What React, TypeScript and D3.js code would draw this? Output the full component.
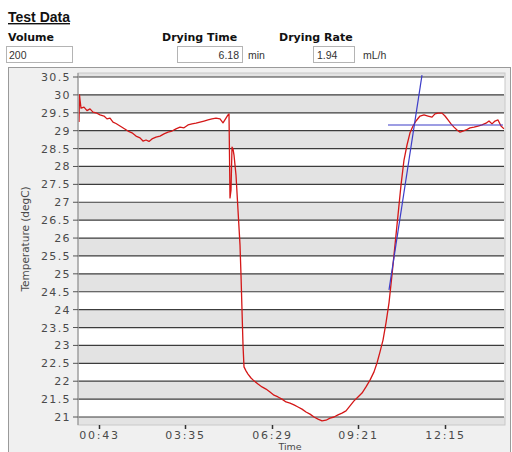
import * as d3 from "d3";

// elapsed seconds and temperature
const timeSec = [
  2, 3, 4, 6, 12, 18, 24, 30, 36, 44, 52, 58, 64, 70, 76, 84, 92, 100, 108, 116,
  124, 130, 136, 142, 148, 156, 164, 172, 180, 188, 196, 204, 212, 220, 228, 236,
  244, 252, 260, 268, 276, 284, 290, 296, 300, 302, 304, 306, 308, 310, 312, 316,
  320, 324, 326, 328, 330, 332, 336, 340, 346, 352, 360, 368, 376, 384, 392, 400,
  408, 416, 424, 432, 440, 448, 456, 464, 472, 480, 488, 496, 504, 512, 520, 528,
  536, 544, 552, 560, 568, 576, 584, 592, 598, 604, 610, 616, 622, 628, 634, 640,
  646, 652, 658, 664, 670, 676, 684, 692, 700, 708, 714, 720, 728, 734, 740, 746,
  752, 758, 764, 770, 776, 784, 792, 800, 808, 816, 822, 828, 834, 840, 846, 852,
];
const tempC = [
  29.24, 30.0, 29.86, 29.63, 29.66, 29.56, 29.61, 29.52, 29.5, 29.44, 29.41, 29.33, 29.35, 29.24, 29.2, 29.13, 29.06, 28.99, 28.94, 28.85,
  28.8, 28.71, 28.74, 28.7, 28.77, 28.82, 28.85, 28.91, 28.96, 28.99, 29.05, 29.1, 29.08, 29.16, 29.19, 29.21,
  29.24, 29.27, 29.3, 29.33, 29.35, 29.33, 29.22, 29.35, 29.44, 29.47, 27.12, 27.34, 28.54, 28.49, 28.32, 27.76,
  26.78, 25.81, 24.97, 23.99, 23.01, 22.4, 22.29, 22.2, 22.09, 22.01, 21.92, 21.84, 21.78, 21.7, 21.61, 21.56,
  21.5, 21.42, 21.39, 21.34, 21.28, 21.22, 21.14, 21.08, 21.0, 20.94, 20.89, 20.91, 20.97, 21.0, 21.06, 21.11,
  21.17, 21.31, 21.45, 21.56, 21.67, 21.84, 22.03, 22.26, 22.51, 22.82, 23.15, 23.63, 24.19, 24.97, 25.81, 26.64,
  27.48, 28.18, 28.6, 28.94, 29.13, 29.27, 29.41, 29.44, 29.41, 29.38, 29.47, 29.49, 29.49, 29.41, 29.3, 29.19,
  29.1, 29.02, 28.96, 28.99, 29.02, 29.08, 29.1, 29.13, 29.16, 29.21, 29.27, 29.19, 29.27, 29.3, 29.13, 29.05,
];

// fitted rise line and plateau line (blue)
const fitTimes = [622, 688];
const fitTemps = [24.55, 30.55];
const plateauTimes = [620, 850];
const plateauTemp = 29.16;

const yTicks = [21, 21.5, 22, 22.5, 23, 23.5, 24, 24.5, 25, 25.5, 26, 26.5, 27, 27.5, 28, 28.5, 29, 29.5, 30, 30.5];
const xTickValues = [43, 215, 389, 561, 735];
const xTickLabels = ["00:43", "03:35", "06:29", "09:21", "12:15"];

const plotLeft = 78, plotRight = 505, plotTop = 73, plotBottom = 425;

export default function App() {
  const x = d3.scaleLinear().domain([0, 854]).range([plotLeft, plotRight]);
  const y = d3.scaleLinear().domain([21, 30.5]).range([417, 77]);

  const line = d3.line<number>()
    .x((d, i) => x(timeSec[i]))
    .y((d) => y(d));

  const bands = d3.range(20.5, 31, 0.5).filter((v) => Math.abs(v % 1 - 0.5) < 0.01);

  const sans = "DejaVu Sans, Verdana, sans-serif";
  const arial = "Liberation Sans, Arial, sans-serif";

  return (
    <svg width={512} height={452} style={{ position: "absolute", left: 0, top: 0 }}>
      <rect width={512} height={452} fill="#ffffff" />
      {/* header */}
      <text x={8} y={22} fontFamily={arial} fontWeight="bold" fontSize={14} fill="#111" textDecoration="underline">Test Data</text>
      <text x={8} y={41} fontFamily={sans} fontWeight="bold" fontSize={11} fill="#111">Volume</text>
      <text x={162} y={41} fontFamily={sans} fontWeight="bold" fontSize={11} fill="#111">Drying Time</text>
      <text x={279} y={41} fontFamily={sans} fontWeight="bold" fontSize={11} fill="#111">Drying Rate</text>
      <rect x={6.5} y={46.5} width={66} height={16} fill="#fff" stroke="#b4b4b4" />
      <text x={9} y={59} fontFamily={arial} fontSize={10.5} fill="#333">200</text>
      <rect x={177.5} y={46.5} width={65} height={16} fill="#fff" stroke="#b4b4b4" />
      <text x={239} y={59} textAnchor="end" fontFamily={arial} fontSize={10.5} fill="#333">6.18</text>
      <text x={248} y={59} fontFamily={arial} fontSize={10.5} fill="#333">min</text>
      <rect x={313.5} y={46.5} width={41} height={16} fill="#fff" stroke="#b4b4b4" />
      <text x={317} y={59} fontFamily={arial} fontSize={10.5} fill="#333">1.94</text>
      <text x={363} y={59} fontFamily={arial} fontSize={10.5} fill="#333">mL/h</text>

      {/* chart panel */}
      <rect x={8.5} y={67.5} width={502} height={390} fill="#f0f0f0" stroke="#9a9a9a" />
      <defs>
        <clipPath id="plotClip">
          <rect x={plotLeft} y={plotTop} width={plotRight - plotLeft} height={plotBottom - plotTop} />
        </clipPath>
      </defs>
      <rect x={plotLeft} y={plotTop} width={plotRight - plotLeft} height={plotBottom - plotTop} fill="#ffffff" />
      <g clipPath="url(#plotClip)">
        {bands.map((v) => (
          <rect key={v} x={plotLeft} y={y(v + 0.5)} width={plotRight - plotLeft} height={y(v) - y(v + 0.5)} fill="#e3e3e3" />
        ))}
        {yTicks.map((v) => (
          <line key={v} x1={plotLeft} x2={plotRight - 1} y1={y(v)} y2={y(v)} stroke="#3c3c3c" strokeWidth={1.2} />
        ))}
        <path d={line(tempC) || ""} fill="none" stroke="#d41818" strokeWidth={1.3} strokeLinejoin="round" />
        <line x1={x(fitTimes[0])} y1={y(fitTemps[0])} x2={x(fitTimes[1])} y2={y(fitTemps[1])} stroke="#3c3cc8" strokeWidth={1.2} />
        <line x1={x(plateauTimes[0])} y1={y(plateauTemp)} x2={x(plateauTimes[1])} y2={y(plateauTemp)} stroke="#3c3cc8" strokeWidth={1.1} />
      </g>
      <rect x={plotLeft} y={plotTop} width={plotRight - plotLeft} height={plotBottom - plotTop} fill="none" stroke="#c8c8c8" />
      <line x1={plotLeft} x2={plotLeft} y1={plotTop} y2={plotBottom} stroke="#8a8a8a" />

      {/* y axis */}
      {yTicks.map((v) => (
        <g key={v}>
          <line x1={73} x2={plotLeft} y1={y(v)} y2={y(v)} stroke="#555" />
          <text x={71} y={y(v) + 4} textAnchor="end" fontFamily={sans} fontSize={11} letterSpacing={1.4} fill="#4a4a4a">{v}</text>
        </g>
      ))}
      <text transform="translate(29,239) rotate(-90)" textAnchor="middle" fontFamily={sans} fontSize={10.5} fill="#4a4a4a">Temperature (degC)</text>

      {/* x axis */}
      {xTickValues.map((v, i) => (
        <g key={v}>
          <line x1={x(v)} x2={x(v)} y1={plotBottom} y2={plotBottom + 4} stroke="#333" strokeWidth={1.5} />
          <text x={x(v)} y={439} textAnchor="middle" fontFamily={sans} fontSize={11} letterSpacing={1.8} fill="#4a4a4a">{xTickLabels[i]}</text>
        </g>
      ))}
      <text x={290} y={450} textAnchor="middle" fontFamily={sans} fontSize={9.5} fill="#4a4a4a">Time</text>
    </svg>
  );
}
